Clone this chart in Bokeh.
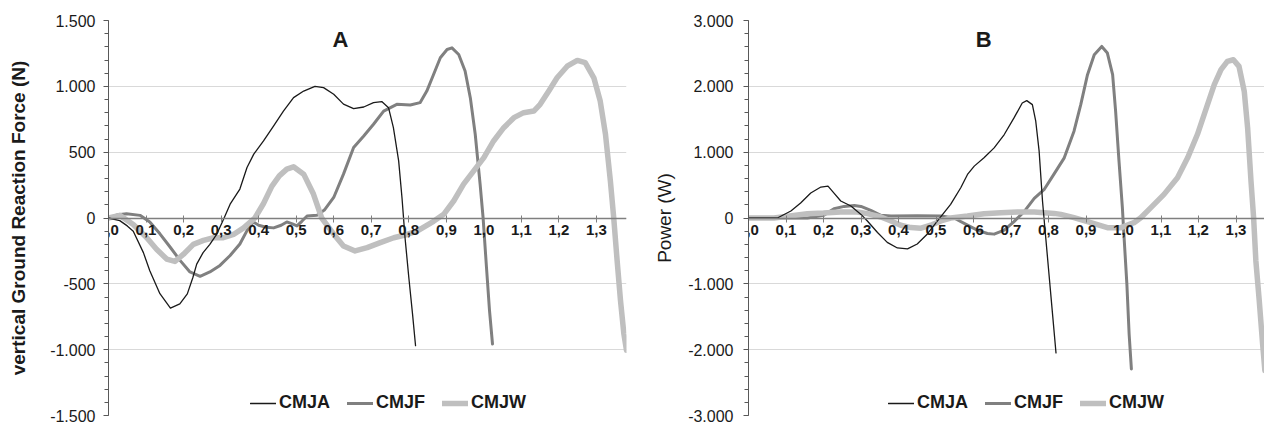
from bokeh.plotting import figure
from bokeh.models import (Range1d, SingleIntervalTicker, FixedTicker,
                          CustomJSTickFormatter, Legend, LegendItem, Label)
from bokeh.layouts import row
from bokeh.embed import file_html
from bokeh.resources import INLINE

FONT = "Liberation Sans"

series_names = ["CMJA", "CMJF", "CMJW"]
series_colors = ["#1a1a1a", "#808080", "#bfbfbf"]
series_widths = [1.3, 3, 5.5]

x_ticks = [0.0, 0.1, 0.2, 0.3, 0.4, 0.5, 0.6, 0.7, 0.8, 0.9, 1.0, 1.1, 1.2, 1.3]

panel_titles = ["A", "B"]
y_labels = ["vertical Ground Reaction Force (N)", "Power (W)"]

# ---------- Panel A: vertical ground reaction force (N) ----------
a_cmja_t = [0, 0.03, 0.05, 0.066, 0.093, 0.11, 0.137, 0.165, 0.19, 0.21, 0.225, 0.235,
            0.252, 0.27, 0.289, 0.308, 0.324, 0.35, 0.369, 0.387, 0.413, 0.44, 0.466,
            0.493, 0.52, 0.55, 0.573, 0.6, 0.626, 0.653, 0.68, 0.706, 0.728, 0.746,
            0.759, 0.773, 0.782, 0.79, 0.80, 0.81, 0.818]
a_cmja_v = [0, -20, -60, -100, -263, -400, -575, -684, -652, -576, -450, -350,
            -263, -200, -120, 0, 105, 220, 383, 485, 585, 700, 812,
            914, 964, 1000, 990, 940, 865, 830, 843, 876, 884, 838,
            686, 434, 150, -150, -450, -730, -970]

a_cmjf_t = [0, 0.025, 0.048, 0.084, 0.11, 0.137, 0.164, 0.19, 0.217, 0.244, 0.27,
            0.297, 0.324, 0.35, 0.369, 0.386, 0.40, 0.42, 0.44, 0.46, 0.475, 0.49,
            0.502, 0.515, 0.529, 0.555, 0.575, 0.6, 0.626, 0.653, 0.68, 0.706, 0.733,
            0.768, 0.804, 0.83, 0.848, 0.866, 0.884, 0.902, 0.915, 0.933, 0.95, 0.964,
            0.977, 0.99, 0.998, 1.007, 1.015, 1.023]
a_cmjf_v = [0, 25, 33, 20, -30, -120, -220, -320, -410, -443, -410,
            -360, -285, -197, -96, -30, -55, -70, -75, -55, -30, -45,
            -60, -25, 15, 20, 60, 156, 333, 535, 623, 712, 812,
            863, 858, 876, 964, 1090, 1217, 1280, 1292, 1242, 1116, 912,
            636, 257, 0, -376, -702, -957]

a_cmjw_t = [0, 0.03, 0.066, 0.102, 0.128, 0.155, 0.177, 0.2, 0.226, 0.253, 0.28,
            0.306, 0.333, 0.36, 0.39, 0.413, 0.435, 0.455, 0.475, 0.493, 0.52, 0.546,
            0.568, 0.6, 0.626, 0.657, 0.689, 0.724, 0.76, 0.795, 0.822, 0.866, 0.893,
            0.92, 0.946, 0.973, 1.0, 1.026, 1.053, 1.08, 1.106, 1.133, 1.15, 1.173,
            1.195, 1.222, 1.249, 1.27, 1.293, 1.31, 1.324, 1.337, 1.346, 1.355, 1.364,
            1.373, 1.38]
a_cmjw_v = [0, 20, -50, -150, -237, -312, -330, -275, -200, -170, -150,
            -150, -125, -75, 0, 110, 240, 320, 371, 389, 333, 182,
            0, -123, -212, -250, -225, -187, -150, -125, -100, -25, 28,
            131, 257, 358, 459, 585, 686, 762, 800, 812, 863, 964,
            1065, 1153, 1197, 1180, 1065, 888, 636, 283, 0, -323, -627,
            -880, -1005]

# ---------- Panel B: power (W) ----------
b_cmja_t = [0, 0.077, 0.113, 0.139, 0.166, 0.193, 0.212, 0.228, 0.246, 0.273, 0.3,
            0.317, 0.344, 0.37, 0.397, 0.424, 0.45, 0.477, 0.504, 0.513, 0.539, 0.566,
            0.584, 0.602, 0.628, 0.655, 0.682, 0.708, 0.73, 0.742, 0.757, 0.766, 0.775,
            0.784, 0.79, 0.80, 0.81, 0.82]
b_cmja_v = [0, 0, 106, 227, 379, 470, 485, 379, 258, 182, 55,
            -45, -220, -370, -455, -470, -395, -242, -45, 20, 207, 459,
            662, 788, 914, 1065, 1268, 1520, 1747, 1783, 1722, 1470, 1015,
            258, -130, -770, -1410, -2050]

b_cmjf_t = [0, 0.157, 0.2, 0.228, 0.255, 0.282, 0.3, 0.326, 0.353, 0.38, 0.45,
            0.513, 0.548, 0.584, 0.61, 0.637, 0.655, 0.682, 0.708, 0.735, 0.762,
            0.788, 0.815, 0.842, 0.868, 0.886, 0.904, 0.922, 0.942, 0.957, 0.971,
            0.979, 0.988, 0.997, 1.0, 1.009, 1.015, 1.021]
b_cmjf_v = [0, 0, 40, 140, 176, 190, 176, 117, 40, 30, 35,
            30, 0, -109, -185, -235, -245, -185, -56, 96, 298,
            430, 670, 914, 1318, 1722, 2177, 2480, 2606, 2505, 2177,
            1621, 864, 156, -147, -1005, -1762, -2293]

b_cmjw_t = [0, 0.068, 0.157, 0.2, 0.246, 0.29, 0.317, 0.353, 0.38, 0.406, 0.433,
            0.46, 0.486, 0.513, 0.539, 0.584, 0.628, 0.673, 0.717, 0.762, 0.815,
            0.833, 0.868, 0.913, 0.957, 0.993, 1.028, 1.046, 1.073, 1.108, 1.144,
            1.171, 1.197, 1.224, 1.242, 1.26, 1.277, 1.293, 1.308, 1.322, 1.331,
            1.34, 1.347, 1.353, 1.362, 1.371, 1.377]
b_cmjw_v = [0, 0, 66, 75, 91, 91, 66, 15, -45, -110, -146,
            -155, -110, -45, 0, 30, 66, 81, 91, 91, 70,
            55, 5, -71, -147, -147, -71, 5, 157, 359, 611,
            914, 1268, 1722, 2025, 2253, 2379, 2404, 2303, 1924, 1368,
            561, 0, -652, -1258, -1914, -2318]

X_FMT = "return tick.toFixed(1).replace('.', ',');"
Y_FMT = """
const a = Math.abs(Math.round(tick)).toString().replace(/\\B(?=(\\d{3})+(?!\\d))/g, '.');
return (tick < 0 ? '-' : '') + a;
"""


def make_panel(width, border_left, border_right, x_end, y_max, y_step, data,
               title, title_x, title_y, ylabel, ylabel_bold, ylabel_standoff,
               legend_x, label_standoff):
    p = figure(width=width, height=423, output_backend="svg", toolbar_location=None,
               x_range=Range1d(0, x_end), y_range=Range1d(-y_max, y_max),
               min_border_left=border_left, min_border_right=border_right,
               min_border_top=20, min_border_bottom=8)
    p.outline_line_color = None
    p.background_fill_color = "white"
    p.border_fill_color = "white"

    # x axis crossing at zero
    xa = p.xaxis[0]
    xa.fixed_location = 0
    xa.ticker = FixedTicker(ticks=x_ticks, minor_ticks=[])
    xa.formatter = CustomJSTickFormatter(code=X_FMT)
    xa.axis_line_color = "#7f7f7f"
    xa.axis_line_width = 1.5
    xa.major_tick_line_color = "#7f7f7f"
    xa.major_tick_line_width = 1
    xa.major_tick_in = 3
    xa.major_tick_out = 4
    xa.minor_tick_in = 0
    xa.minor_tick_out = 0
    xa.major_label_standoff = 3
    xa.major_label_text_font = FONT
    xa.major_label_text_font_style = "bold"
    xa.major_label_text_font_size = "15px"
    xa.major_label_text_color = "#1a1a1a"

    ticker = SingleIntervalTicker(interval=y_step, num_minor_ticks=5)
    ya = p.yaxis[0]
    ya.ticker = ticker
    ya.formatter = CustomJSTickFormatter(code=Y_FMT)
    ya.axis_line_color = "#595959"
    ya.major_tick_line_color = "#595959"
    ya.minor_tick_line_color = "#595959"
    ya.major_tick_in = 0
    ya.major_tick_out = 5
    ya.minor_tick_in = 0
    ya.minor_tick_out = 4
    ya.major_label_standoff = label_standoff
    ya.major_label_text_font = FONT
    ya.major_label_text_font_size = "16px"
    ya.major_label_text_color = "#1a1a1a"
    ya.axis_label = ylabel
    ya.axis_label_standoff = ylabel_standoff
    ya.axis_label_text_font = FONT
    ya.axis_label_text_font_style = "bold" if ylabel_bold else "normal"
    ya.axis_label_text_font_size = "19px"
    ya.axis_label_text_color = "#1a1a1a"

    p.ygrid.ticker = ticker
    p.ygrid.grid_line_color = "#d9d9d9"
    p.xgrid.visible = False

    renderers = {}
    order = [1, 2, 0]  # CMJF, CMJW, CMJA on top
    for i in order:
        t, v = data[i]
        renderers[i] = p.line(t, v, line_color=series_colors[i],
                              line_width=series_widths[i], line_join="round",
                              line_cap="round")

    legend = Legend(items=[LegendItem(label=series_names[i], renderers=[renderers[i]])
                           for i in range(3)],
                    orientation="horizontal", location=(legend_x, 2),
                    padding=0, margin=0, spacing=17, glyph_width=26, glyph_height=20,
                    label_standoff=3, border_line_color=None, background_fill_alpha=0,
                    label_text_font=FONT, label_text_font_style="bold",
                    label_text_font_size="18px", label_text_color="#1a1a1a")
    p.add_layout(legend)

    p.add_layout(Label(x=title_x, y=title_y, text=title, text_align="center",
                       text_baseline="middle", text_font=FONT, text_font_style="bold",
                       text_font_size="22px", text_color="#1a1a1a"))
    return p


pa = make_panel(636, 108, 10, 1.38, 1500, 500,
                [(a_cmja_t, a_cmja_v), (a_cmjf_t, a_cmjf_v), (a_cmjw_t, a_cmjw_v)],
                panel_titles[0], 0.618, 1358, y_labels[0], True, 18, 142, 8)

pb = make_panel(628, 112, 0, 516 / 375.0, 3000, 1000,
                [(b_cmja_t, b_cmja_v), (b_cmjf_t, b_cmjf_v), (b_cmjw_t, b_cmjw_v)],
                panel_titles[1], 0.627, 2712, y_labels[1], False, 10, 140, 10)

layout = row(pa, pb, spacing=0)
open("out.html", "w").write(file_html(layout, INLINE))
